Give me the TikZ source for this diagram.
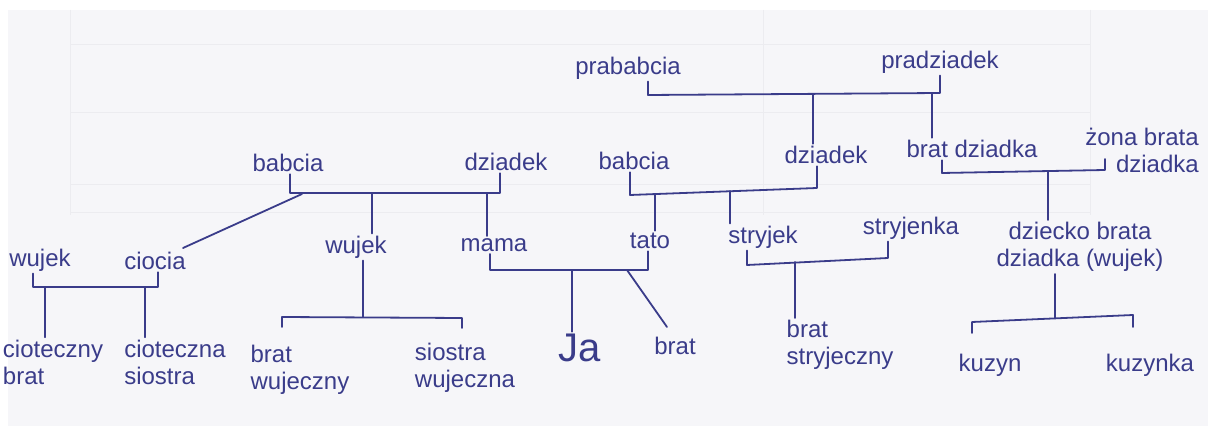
\documentclass[tikz,border=0pt]{standalone}
\usepackage{fontspec}
\setmainfont{Liberation Sans}
\definecolor{ink}{RGB}{58,60,138}
\definecolor{paper}{RGB}{246,246,249}
\definecolor{faint}{RGB}{236,236,240}
\tikzset{
  hw/.style={text=ink, font=\fontsize{12}{13.5}\selectfont, inner sep=1pt},
  big/.style={text=ink, font=\fontsize{20}{22}\selectfont, inner sep=1pt},
  link/.style={draw=ink, line width=0.9pt, line cap=round, line join=round},
  grid/.style={draw=faint, line width=0.5pt}
}
\begin{document}
\begin{tikzpicture}[x=0.5pt,y=-0.5pt]
\useasboundingbox (0,0) rectangle (1208,426);
\fill[white] (0,0) rectangle (1208,426);
\fill[paper] (8,10) rectangle (1208,426);
% faint printed table in the background
\draw[grid] (70,10) -- (70,215);
\draw[grid] (763,10) -- (763,215);
\draw[grid] (1090,10) -- (1090,215);
\draw[grid] (70,45) -- (1090,45);
\draw[grid] (70,113) -- (1090,113);
\draw[grid] (70,185) -- (1090,185);
\draw[grid] (70,213) -- (1090,213);

% --- nodes ---
\node[hw] (pbab) at (628,68) {prababcia};
\node[hw] (pdz) at (940,62) {pradziadek};
\node[hw] (dzP) at (826,155) {dziadek};
\node[hw] (babP) at (634,161) {babcia};
\node[hw] (bdz) at (972,149) {brat dziadka};
\node[hw, align=right] (zbd) at (1142,150) {żona brata\\dziadka};
\node[hw] (babM) at (288,163) {babcia};
\node[hw] (dzM) at (506,162) {dziadek};
\node[hw] (wujL) at (40,260) {wujek};
\node[hw] (cioc) at (155,261) {ciocia};
\node[hw, align=left] (cbrat) at (53,362) {cioteczny\\brat};
\node[hw, align=left] (csios) at (175,362) {cioteczna\\siostra};
\node[hw] (wujM) at (356,247) {wujek};
\node[hw, align=left] (bwuj) at (300,370) {brat\\wujeczny};
\node[hw, align=left] (swuj) at (465,368) {siostra\\wujeczna};
\node[hw] (mama) at (494,245) {mama};
\node[hw] (tato) at (650,241) {tato};
\node[big] (ja) at (580,348) {Ja};
\node[hw] (brat) at (675,346) {brat};
\node[hw] (stryj) at (763,237) {stryjek};
\node[hw] (stryjenka) at (911,228) {stryjenka};
\node[hw, align=left] (bstryj) at (840,345) {brat\\stryjeczny};
\node[hw, align=center] (dzbd) at (1080,247) {dziecko brata\\dziadka (wujek)};
\node[hw] (kuzyn) at (990,365) {kuzyn};
\node[hw] (kuzynka) at (1150,365) {kuzynka};

% --- junction coordinates ---
\coordinate (b1) at (648,95);  \coordinate (b2) at (940,93);
\coordinate (bd1) at (813,95); \coordinate (bd2) at (932,94);
\coordinate (c1) at (630,195); \coordinate (c2) at (817,188);
\coordinate (cd1) at (655,194); \coordinate (cd2) at (730,191);
\coordinate (e1) at (942,173); \coordinate (e2) at (1105,170);
\coordinate (ed) at (1048,172); \coordinate (et) at (1105,159);
\coordinate (f1) at (290,193); \coordinate (f2) at (500,193);
\coordinate (fd1) at (372,193); \coordinate (fd2) at (487,193);
\coordinate (fdiag) at (302,194); \coordinate (ctop) at (183,248);
\coordinate (g1) at (33,287);  \coordinate (g2) at (158,287);
\coordinate (gd1) at (45,287); \coordinate (gd2) at (145,287);
\coordinate (h0) at (363,317); \coordinate (h1) at (282,317); \coordinate (h2) at (462,318);
\coordinate (h1t) at (282,327); \coordinate (h2t) at (462,328);
\coordinate (i1) at (490,270); \coordinate (i2) at (648,270);
\coordinate (id) at (572,270); \coordinate (idiag) at (627,270); \coordinate (btop) at (667,327);
\coordinate (j1) at (747,265); \coordinate (j2) at (888,258); \coordinate (jd) at (795,262);
\coordinate (k0) at (1055,318); \coordinate (k1) at (972,322); \coordinate (k2) at (1133,315);
\coordinate (k1t) at (972,333); \coordinate (k2t) at (1133,327);

% --- connectors ---
% great-grandparents
\draw[link] (pbab.south -| b1) -- (b1) -- (b2) -- (pdz.south -| b2);
\draw[link] (bd1) -- (dzP.north -| bd1);
\draw[link] (bd2) -- (bdz.north -| bd2);
% paternal grandparents
\draw[link] (babP.south -| c1) -- (c1) -- (c2) -- (dzP.south -| c2);
\draw[link] (cd1) -- (tato.north -| cd1);
\draw[link] (cd2) -- (stryj.north -| cd2);
% brat dziadka + żona
\draw[link] (bdz.south -| e1) -- (e1) -- (e2) -- (et);
\draw[link] (ed) -- (dzbd.north -| ed);
% maternal grandparents
\draw[link] (babM.south -| f1) -- (f1) -- (f2) -- (dzM.south -| f2);
\draw[link] (fd1) -- (wujM.north -| fd1);
\draw[link] (fd2) -- (mama.north -| fd2);
\draw[link] (fdiag) -- (ctop);
% wujek + ciocia
\draw[link] (wujL.south -| g1) -- (g1) -- (g2) -- (cioc.south -| g2);
\draw[link] (gd1) -- (cbrat.north -| gd1);
\draw[link] (gd2) -- (csios.north -| gd2);
% wujek (middle)
\draw[link] (wujM.south -| h0) -- (h0);
\draw[link] (h1t) -- (h1) -- (h2) -- (h2t);
% mama + tato
\draw[link] (mama.south -| i1) -- (i1) -- (i2) -- (tato.south -| i2);
\draw[link] (id) -- (ja.north -| id);
\draw[link] (idiag) -- (btop);
% stryjek + stryjenka
\draw[link] (stryj.south -| j1) -- (j1) -- (j2) -- (stryjenka.south -| j2);
\draw[link] (jd) -- (bstryj.north -| jd);
% dziecko brata dziadka
\draw[link] (dzbd.south -| k0) -- (k0);
\draw[link] (k1t) -- (k1) -- (k2) -- (k2t);
\end{tikzpicture}
\end{document}
